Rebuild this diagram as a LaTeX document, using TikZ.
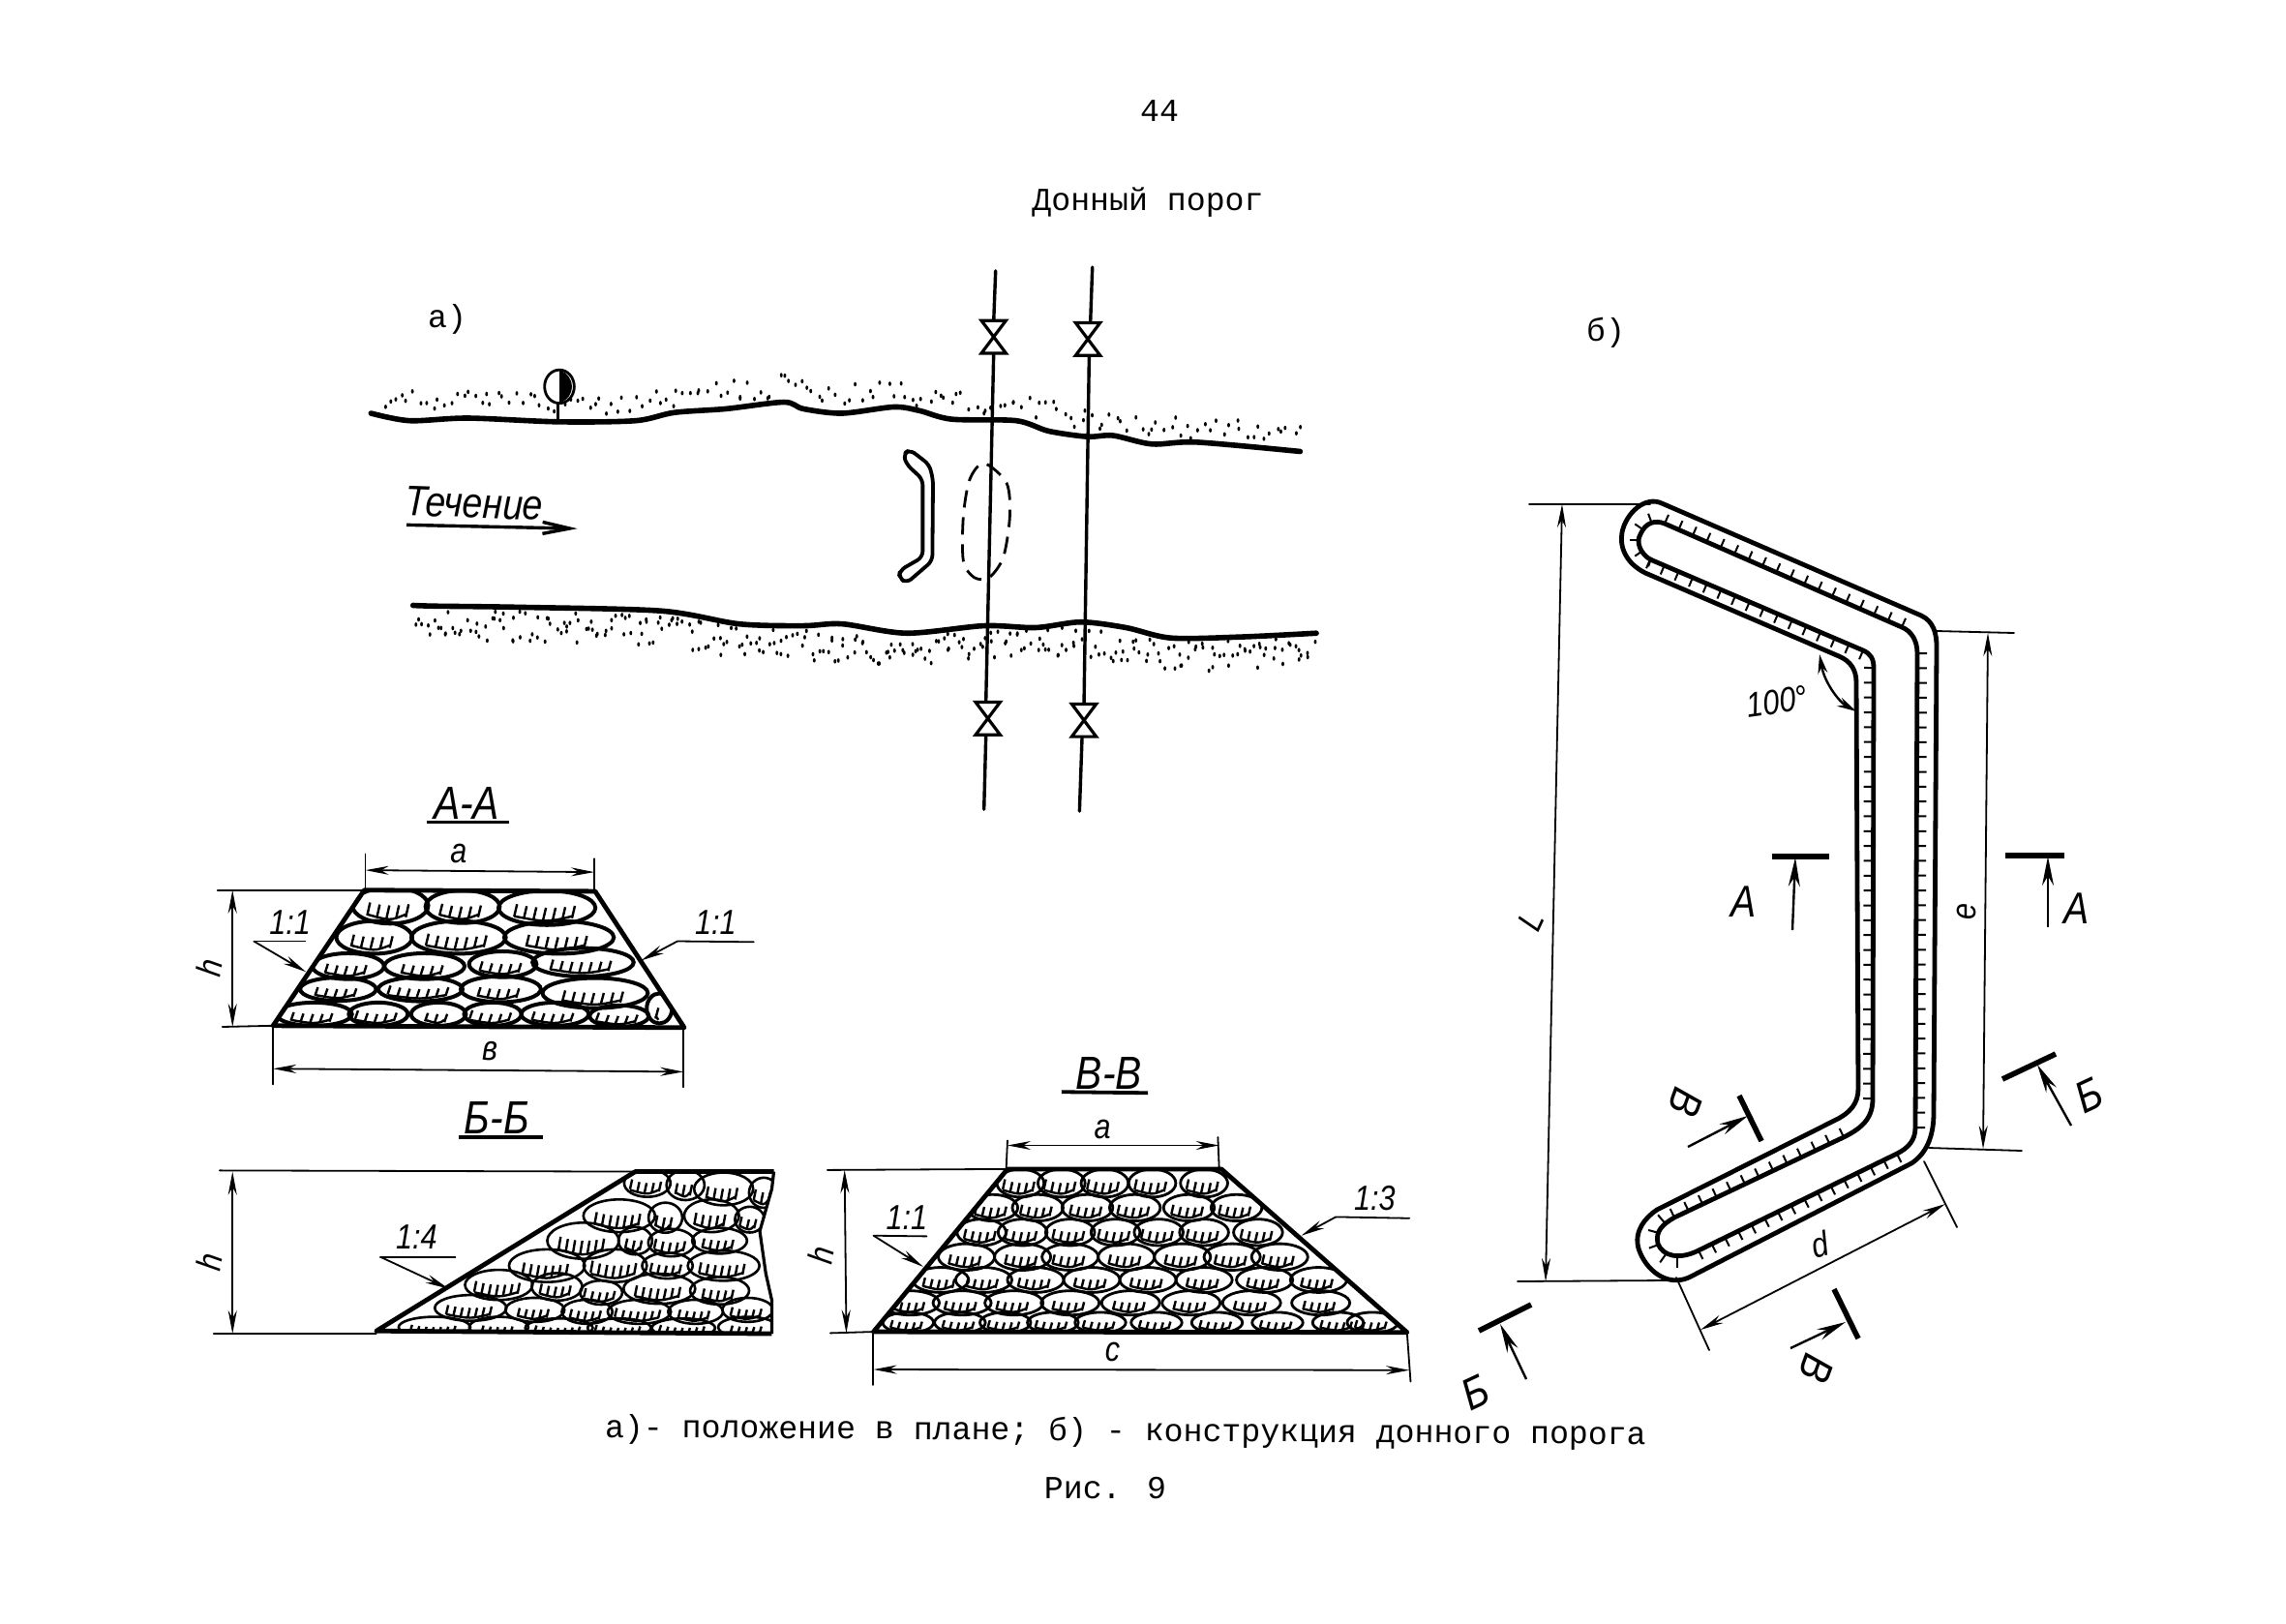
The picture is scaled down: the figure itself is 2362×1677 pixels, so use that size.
\documentclass[tikz,border=0pt]{standalone}
\usepackage{fontspec}
\setmainfont{Liberation Mono}
\newfontfamily\handf[FakeStretch=0.85]{Liberation Sans}
\usetikzlibrary{arrows.meta}
\newcommand{\tsize}{\fontsize{16.6}{20}\selectfont}
\newcommand{\hsmall}{\fontsize{18}{20}\selectfont\handf\itshape}
\newcommand{\hsec}{\fontsize{23}{26}\selectfont\handf\itshape}
\newcommand{\hflow}{\fontsize{22}{26}\selectfont\handf\itshape}
\newcommand{\hbig}{\fontsize{24}{26}\selectfont\handf\itshape}
\tikzset{
  printed/.style={font=\tsize,inner sep=0pt},
  hand/.style={font=\hsmall,inner sep=0pt},
  handsec/.style={font=\hsec,inner sep=0pt},
  handflow/.style={font=\hflow,inner sep=0pt},
  handbig/.style={font=\hbig,inner sep=0pt},
  thick line/.style={line width=2.8pt,line join=round,line cap=round},
  pipe/.style={line width=1.7pt,line cap=round},
  thin line/.style={line width=0.9pt,line cap=round},
  dimline/.style={line width=0.9pt,{Stealth[length=12pt,width=4.5pt]}-{Stealth[length=12pt,width=4.5pt]}},
  leader/.style={line width=0.9pt,-{Stealth[length=12pt,width=4.5pt]}},
  underl/.style={line width=1.9pt},
  outlinep/.style={line width=2.4pt,line join=round},
  secbar/.style={line width=2.8pt},
  secarrow/.style={line width=1.2pt,-{Stealth[length=15pt,width=6pt]}},
}
\newcommand{\rsp}{24}
% one stone: line width, centre, radii
\newcommand{\rock}[5][2pt]{%
  \draw[line width=#1] (#2,#3) ellipse [x radius=#4*1.05, y radius=#5*1.12];
  \pgfmathtruncatemacro\nn{int(0.72*#4/\rsp)}
  \foreach \k in {-\nn,...,\nn}{
    \pgfmathsetmacro\tx{#2+\k*\rsp-\rsp*0.4}
    \pgfmathsetmacro\rr{(\k*\rsp-\rsp*0.4)/#4}
    \pgfmathsetmacro\ty{#3+#5*0.8*sqrt(max(0.05,1-\rr*\rr))}
    \draw[line width=1.2pt] (\tx,\ty) -- ++(\rsp*0.3,-#5*0.8);
  }
  \pgfmathsetmacro\sa{#2-\nn*\rsp-\rsp*0.4}
  \pgfmathsetmacro\sb{#2+\nn*\rsp-\rsp*0.4}
  \draw[line width=1.2pt] (\sa,#3+#5*0.55) .. controls (#2,#3+#5*0.95) .. (\sb,#3+#5*0.55);
}
\newcommand{\valve}[2]{%
  \filldraw[fill=white,draw=black,line width=1.6pt,line join=miter]
    (#1-19,#2-44) -- (#1+19,#2-44) -- (#1-19,#2+44) -- (#1+19,#2+44) -- cycle;
}
% stipple along segments: list, step, offset, range
\newcommand{\stip}[4]{%
  \foreach \xa/\ya/\xb/\yb in {#1}{
    \pgfmathtruncatemacro\nseg{max(1,(\xb-\xa)/#2)}
    \foreach \ii in {1,...,\nseg}{
      \pgfmathsetmacro\px{\xa+(\xb-\xa)/\nseg*\ii+rand*5}
      \pgfmathsetmacro\py{\ya+(\yb-\ya)/\nseg*\ii+#3+rnd*#4}
      \fill (\px,\py) ellipse [x radius=2.2, y radius=6];
    }
  }
}
% ticks normal to segments: list, step (px)
\newcommand{\ticks}[2]{%
  \foreach \xa/\ya/\xb/\yb in {#1}{
    \pgfmathsetmacro\seglen{veclen(\xb-\xa,\yb-\ya)}
    \pgfmathtruncatemacro\nseg{max(1,\seglen/#2)}
    \pgfmathsetmacro\nx{(\yb-\ya)/\seglen*10}
    \pgfmathsetmacro\ny{-(\xb-\xa)/\seglen*10}
    \foreach \ii in {0,...,\nseg}{
      \pgfmathsetmacro\px{\xa+(\xb-\xa)/\nseg*\ii}
      \pgfmathsetmacro\py{\ya+(\yb-\ya)/\nseg*\ii}
      \draw[line width=1pt] (\px,\py) -- ++(\nx,\ny);
    }
  }
}
\begin{document}
\begin{tikzpicture}[x=0.5pt,y=-0.5pt]
\fill[white] (0,0) rectangle (2362,1677);
\useasboundingbox (0,0) rectangle (2362,1677);
\pgfmathsetseed{11}

% ---- printed text
\node[printed] (pagenum) at (1198,115) {44};
\node[printed] (title) at (1186,209) {Донный порог};
\node[printed] (la) at (462,330) {а)};
\node[printed] (lb) at (1659,344) {б)};
\node[printed,rotate=-0.4] (cap) at (1163,1480) {а)- положение в плане; б) - конструкция донного порога};
\node[printed] (fig) at (1142,1538) {Рис. 9};

% ---- plan view (a)
\begin{scope}[shift={(350,250)},xscale=1/1.5,yscale=1/2.61]
  \stip{60/462/200/475,200/475/340/485,340/485/460/482,460/482/600/450,600/450/690/432,690/432/780/462,780/462/860/445,860/445/950/478,950/478/1050/482,1050/482/1160/525,1160/525/1260/545,1260/545/1490/565}{9}{-75}{60}
  \stip{118/985/280/985,280/985/500/995,500/995/620/1030,620/1030/720/1035,720/1035/880/1055,880/1055/1000/1035,1000/1035/1150/1025,1150/1025/1290/1068,1290/1068/1510/1055}{5}{12}{80}
  % banks
  \draw[thick line] plot[smooth] coordinates {(50,462) (110,482) (200,475) (340,485) (460,482) (520,460) (600,450) (690,432) (720,450) (780,462) (860,445) (900,455) (950,478) (1050,482) (1100,510) (1160,525) (1200,522) (1260,545) (1330,540) (1490,565)};
  \draw[thick line] plot[smooth] coordinates {(115,980) (150,982) (280,985) (500,995) (620,1030) (720,1035) (780,1030) (880,1055) (1000,1035) (1080,1040) (1150,1025) (1220,1040) (1290,1068) (1400,1065) (1515,1055)};
  % pipes and valves
  \draw[pipe] (1018,78) -- (1015,215);
  \draw[pipe] (1015,300) -- (1003,1240);
  \draw[pipe] (1003,1330) -- (1000,1530);
  \draw[pipe] (1168,68) -- (1165,215);
  \draw[pipe] (1163,305) -- (1155,1245);
  \draw[pipe] (1152,1335) -- (1148,1535);
  \valve{1015}{256}
  \valve{1161}{262}
  \valve{1006}{1285}
  \valve{1155}{1290}
  % landmark
  \draw[line width=1.4pt] (342,390) ellipse [x radius=23,y radius=45];
  \fill (342,346) .. controls (368,360) and (368,420) .. (342,434) -- cycle;
  \draw[line width=1.2pt] (340,435) -- (340,482);
  % sill in plan
  \draw[line width=1.9pt,line join=round,rounded corners=3pt] (875,572) -- (885,560) -- (915,600) -- (921,640) -- (920,860) -- (880,920) -- (868,905) -- (870,885) -- (905,850) -- (905,640) -- (880,600) -- cycle;
  % dashed contour
  \draw[line width=1.4pt,dash pattern=on 9pt off 5pt] plot[smooth cycle] coordinates {(1000,597) (1035,650) (1040,740) (1030,850) (1008,905) (985,905) (968,860) (968,740) (978,640)};
  % flow
  \draw[line width=1.7pt,-{Straight Barb[length=14pt,width=6pt]}] (105,763) -- (370,773);
  \node[handflow,rotate=-2] (flow) at (210,705) {Течение};
\end{scope}

% ---- sections A-A and Б-Б
\begin{scope}[shift={(200,788)},xscale=1/2.41,yscale=1/2.52]
  \node[handbig] (tAA) at (680,105) {А-А};
  \draw[underl] (580,155) -- (785,155);
  \begin{scope}
    \clip (425,332) -- (1000,335) -- (1222,690) -- (198,685) -- cycle;
    \rock{490}{372}{90}{42}\rock{670}{375}{88}{38}\rock{880}{378}{115}{40}
    \rock{450}{455}{90}{38}\rock{660}{455}{112}{38}\rock{910}{455}{130}{38}
    \rock{385}{530}{85}{30}\rock{575}{530}{95}{30}\rock{770}{525}{80}{30}\rock{970}{520}{120}{33}
    \rock{360}{590}{90}{27}\rock{565}{590}{100}{28}\rock{765}{590}{95}{30}\rock{1000}{600}{125}{35}\rock{1160}{640}{30}{35}
    \rock{300}{655}{90}{27}\rock{460}{655}{70}{27}\rock{610}{655}{65}{27}\rock{745}{655}{68}{27}\rock{900}{655}{80}{27}\rock{1060}{660}{70}{25}
  \end{scope}
  \draw[outlinep] (425,332) -- (1000,335) -- (1222,690) -- (198,685) -- cycle;
  \draw[thin line] (60,332) -- (425,332);
  \draw[thin line] (72,688) -- (198,685);
  \draw[dimline] (97,332) -- (97,688);
  \draw[thin line] (428,238) -- (428,330);
  \draw[thin line] (998,250) -- (998,335);
  \draw[dimline] (428,280) -- (998,285);
  \draw[thin line] (198,685) -- (198,838);
  \draw[thin line] (1220,690) -- (1220,845);
  \draw[dimline] (198,797) -- (1220,805);
  \node[hand] (aA) at (660,238) {а};
  \node[hand] (bA) at (738,750) {в};
  \node[hand,rotate=80] (hA) at (40,535) {h};
  \node[hand] (sA1) at (240,415) {1:1};
  \draw[thin line] (150,465) -- (278,465);
  \draw[leader] (150,465) -- (280,545);
  \node[hand] (sA2) at (1300,415) {1:1};
  \draw[thin line] (1395,467) -- (1205,465);
  \draw[leader] (1205,465) -- (1115,515);

  \node[handbig] (tBB) at (755,925) {Б-Б};
  \draw[underl] (660,975) -- (870,975);
  \renewcommand{\rsp}{18}
  \begin{scope}
    \clip (455,1480) -- (1100,1065) -- (1445,1065) -- (1440,1110) -- (1410,1220) -- (1425,1330) -- (1440,1400) -- (1440,1487) -- cycle;
    \rock[1.3pt]{1130}{1095}{55}{32}\rock[1.3pt]{1225}{1100}{45}{35}\rock[1.3pt]{1320}{1110}{70}{38}\rock[1.3pt]{1420}{1120}{35}{35}
    \rock[1.3pt]{1060}{1180}{85}{38}\rock[1.3pt]{1175}{1185}{40}{35}\rock[1.3pt]{1290}{1180}{65}{38}\rock[1.3pt]{1385}{1190}{35}{30}
    \rock[1.3pt]{970}{1245}{85}{42}\rock[1.3pt]{1100}{1245}{40}{32}\rock[1.3pt]{1190}{1250}{55}{32}\rock[1.3pt]{1310}{1245}{65}{30}
    \rock[1.3pt]{880}{1310}{90}{38}\rock[1.3pt]{1050}{1310}{75}{38}\rock[1.3pt]{1180}{1310}{60}{30}\rock[1.3pt]{1320}{1310}{85}{35}
    \rock[1.3pt]{760}{1360}{80}{35}\rock[1.3pt]{905}{1365}{60}{32}\rock[1.3pt]{1160}{1370}{85}{35}\rock[1.3pt]{1310}{1375}{70}{32}\rock[1.3pt]{1015}{1380}{50}{28}
    \rock[1.3pt]{690}{1420}{85}{30}\rock[1.3pt]{850}{1425}{70}{28}\rock[1.3pt]{980}{1430}{60}{28}\rock[1.3pt]{1110}{1430}{75}{28}\rock[1.3pt]{1250}{1430}{65}{28}\rock[1.3pt]{1380}{1425}{60}{28}
    \rock[1.3pt]{600}{1470}{85}{24}\rock[1.3pt]{760}{1470}{70}{24}\rock[1.3pt]{910}{1472}{80}{22}\rock[1.3pt]{1060}{1472}{75}{22}\rock[1.3pt]{1220}{1472}{75}{22}\rock[1.3pt]{1380}{1470}{70}{24}
  \end{scope}
  \draw[outlinep] (1440,1487) -- (455,1480) -- (1100,1065) -- (1445,1065);
  \draw[line width=1.6pt,line join=round] (1445,1065) -- (1440,1110) -- (1410,1220) -- (1425,1330) -- (1440,1400) -- (1440,1487);
  \draw[thin line] (65,1062) -- (1100,1065);
  \draw[thin line] (50,1487) -- (455,1487);
  \draw[dimline] (97,1065) -- (97,1487);
  \node[hand,rotate=80] (hB) at (40,1300) {h};
  \node[hand] (sB) at (555,1235) {1:4};
  \draw[thin line] (465,1287) -- (652,1287);
  \draw[leader] (465,1287) -- (635,1370);
\end{scope}

% ---- section В-В
\begin{scope}[shift={(820,1075)},xscale=1/2.24,yscale=1/2.95]
  \renewcommand{\rsp}{17}
  \node[handbig] (tVV) at (730,100) {В-В};
  \draw[underl] (620,157) -- (820,160);
  \begin{scope}
    \clip (495,392) -- (990,392) -- (1420,890) -- (185,888) -- cycle;
    \foreach \x in {525,620,720,830,950}{\rock[1.4pt]{\x}{435}{52}{38}}
    \foreach \x in {460,565,680,790,915,1025}{\rock[1.4pt]{\x}{510}{56}{36}}
    \foreach \x in {435,530,640,745,845,950,1075}{\rock[1.4pt]{\x}{585}{54}{36}}
    \foreach \x in {400,530,640,770,900,1015,1125}{\rock[1.4pt]{\x}{660}{62}{36}}
    \foreach \x in {340,440,560,690,820,950,1090,1215}{\rock[1.4pt]{\x}{730}{62}{34}}
    \foreach \x in {270,390,510,640,780,920,1060,1220}{\rock[1.4pt]{\x}{800}{64}{33}}
    \foreach \x in {265,385,490,600,710,840,980,1120,1260,1340}{\rock[1.4pt]{\x}{860}{56}{28}}
  \end{scope}
  \draw[outlinep] (495,392) -- (990,392) -- (1420,890) -- (185,888) -- cycle;
  \draw[thin line] (78,395) -- (495,392);
  \draw[thin line] (85,892) -- (185,888);
  \draw[dimline] (118,395) -- (122,892);
  \draw[thin line] (495,305) -- (492,392);
  \draw[thin line] (982,295) -- (985,392);
  \draw[dimline] (495,320) -- (985,320);
  \draw[thin line] (183,890) -- (183,1050);
  \draw[thin line] (1420,895) -- (1428,1040);
  \draw[dimline] (185,1003) -- (1425,1005);
  \node[hand] (aV) at (715,270) {а};
  \node[hand] (cV) at (738,950) {с};
  \node[hand,rotate=80] (hV) at (62,655) {h};
  \node[hand] (sV1) at (262,540) {1:1};
  \draw[thin line] (185,595) -- (308,597);
  \draw[leader] (185,595) -- (300,690);
  \node[hand] (sV2) at (1345,480) {1:3};
  \draw[thin line] (1425,542) -- (1255,538);
  \draw[leader] (1255,538) -- (1175,595);
\end{scope}

% ---- plan of the sill (б)
\draw[outlinep] (1717,520) -- (1985,636) .. controls (1998,642) and (2001,655) .. (2001,668) -- (1998,1150) .. controls (1998,1175) and (1990,1192) .. (1975,1202) -- (1745,1320) .. controls (1722,1330) and (1700,1312) .. (1693,1290) .. controls (1688,1272) and (1700,1258) .. (1712,1250) -- (1895,1158) .. controls (1912,1150) and (1920,1140) .. (1920,1125) -- (1918,705) .. controls (1918,692) and (1912,683) .. (1900,678) -- (1700,592) .. controls (1680,582) and (1673,565) .. (1676,550) .. controls (1680,530) and (1700,512) .. (1717,520) -- cycle;
\draw[outlinep] (1720,541) -- (1965,648) .. controls (1975,652) and (1981,662) .. (1981,675) -- (1979,1165) .. controls (1979,1178) and (1972,1186) .. (1960,1192) -- (1755,1292) .. controls (1735,1302) and (1718,1298) .. (1713,1285) .. controls (1710,1272) and (1718,1265) .. (1730,1258) -- (1905,1175) .. controls (1925,1165) and (1935,1155) .. (1935,1135) -- (1936,690) .. controls (1936,680) and (1932,675) .. (1925,672) -- (1705,578) .. controls (1695,572) and (1690,560) .. (1695,552) .. controls (1700,540) and (1710,537) .. (1720,541) -- cycle;
\ticks{1720/541/1965/648,1981/675/1979/1165,1960/1192/1755/1292,1730/1258/1905/1175,1935/1135/1936/690,1925/672/1705/578}{15}
\foreach \ang in {110,145,180,215,250}{
  \draw[line width=1pt] (1713,558) ++(\ang:19) -- ++(\ang:10);
}
\foreach \ang in {90,125,160,195,230}{
  \draw[line width=1pt] (1733,1279) ++(\ang:21) -- ++(\ang:10);
}
% dimensions
\draw[thin line] (1580,521) -- (1705,521);
\draw[thin line] (1568,1324) -- (1722,1323);
\draw[dimline] (1614,521) -- (1597,1324);
\draw[thin line] (2001,652) -- (2081,654);
\draw[thin line] (1993,1186) -- (2089,1189);
\draw[dimline] (2054,654) -- (2049,1187);
\draw[thin line] (1988,1200) -- (2022,1268);
\draw[thin line] (1732,1320) -- (1766,1395);
\draw[dimline] (1757,1374) -- (2010,1244);
\node[hand,rotate=65] (dL) at (1582,952) {L};
\node[hand,rotate=90] (de) at (2032,942) {е};
\node[hand,rotate=15] (dd) at (1880,1286) {d};
\draw[line width=1.2pt,{Stealth[length=10pt,width=5pt]}-{Stealth[length=10pt,width=5pt]}] (1880,676) .. controls (1885,705) and (1900,725) .. (1918,735);
\node[hand,rotate=8] (ang) at (1836,725) {100°};
% section marks
\coordinate (A1b) at (1831,885); \coordinate (A1c) at (1890,885); \coordinate (A1s) at (1852,961); \coordinate (A1e) at (1855,886);
\draw[secbar] (A1b) -- (A1c);
\draw[secarrow] (A1s) -- (A1e);
\node[handsec] (A1) at (1802,932) {А};
\coordinate (A2b) at (2072,884); \coordinate (A2c) at (2133,884); \coordinate (A2s) at (2116,958); \coordinate (A2e) at (2116,885);
\draw[secbar] (A2b) -- (A2c);
\draw[secarrow] (A2s) -- (A2e);
\node[handsec] (A2) at (2146,939) {А};
\coordinate (B1b) at (2069,1115); \coordinate (B1c) at (2124,1089); \coordinate (B1s) at (2140,1163); \coordinate (B1e) at (2105,1100);
\draw[secbar] (B1b) -- (B1c);
\draw[secarrow] (B1s) -- (B1e);
\node[handsec,rotate=25] (B1) at (2158,1132) {Б};
\coordinate (B2b) at (1528,1375); \coordinate (B2c) at (1582,1348); \coordinate (B2s) at (1577,1425); \coordinate (B2e) at (1550,1368);
\draw[secbar] (B2b) -- (B2c);
\draw[secarrow] (B2s) -- (B2e);
\node[handsec,rotate=25] (B2) at (1524,1439) {Б};
\coordinate (V1b) at (1797,1132); \coordinate (V1c) at (1820,1179); \coordinate (V1s) at (1744,1185); \coordinate (V1e) at (1806,1153);
\draw[secbar] (V1b) -- (V1c);
\draw[secarrow] (V1s) -- (V1e);
\node[handsec,rotate=-110] (V1) at (1742,1139) {В};
\coordinate (V2b) at (1895,1332); \coordinate (V2c) at (1920,1383); \coordinate (V2s) at (1850,1393); \coordinate (V2e) at (1907,1366);
\draw[secbar] (V2b) -- (V2c);
\draw[secarrow] (V2s) -- (V2e);
\node[handsec,rotate=-110] (V2) at (1877,1414) {В};
\end{tikzpicture}
\end{document}
